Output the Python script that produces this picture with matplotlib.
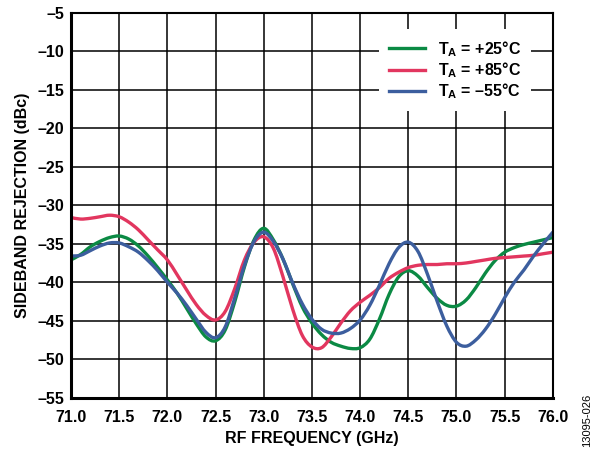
import numpy as np
import matplotlib
matplotlib.use('Agg')
import matplotlib.pyplot as plt
from matplotlib.ticker import FuncFormatter, MultipleLocator
from matplotlib.path import Path
from matplotlib.patches import PathPatch
from matplotlib.lines import Line2D

plt.rcParams['font.family'] = ['Liberation Sans', 'DejaVu Sans']
plt.rcParams['mathtext.fontset'] = 'custom'
plt.rcParams['mathtext.bf'] = 'Liberation Sans:bold'
plt.rcParams['mathtext.rm'] = 'Liberation Sans:bold'
plt.rcParams['mathtext.default'] = 'bf'

# RF frequency (GHz)
freq = [71.0, 71.1, 71.2, 71.3, 71.4, 71.5, 71.6, 71.7, 71.8, 71.9,
        72.0, 72.1, 72.2, 72.3, 72.4, 72.5, 72.6, 72.7, 72.8, 72.9,
        73.0, 73.1, 73.2, 73.3, 73.4, 73.5, 73.6, 73.7, 73.8, 73.9,
        74.0, 74.1, 74.2, 74.3, 74.4, 74.5, 74.6, 74.7, 74.8, 74.9,
        75.0, 75.1, 75.2, 75.3, 75.4, 75.5, 75.6, 75.7, 75.8, 75.9, 76.0]

# sideband rejection (dBc)
sbr_25 = [-37.1, -36.4, -35.4, -34.7, -34.2, -34.0, -34.4, -35.3, -36.6, -38.1,
          -39.7, -41.4, -43.4, -45.4, -47.1, -47.6, -46.2, -42.5, -38.0, -34.5,
          -33.0, -34.5, -37.0, -40.2, -43.2, -45.3, -46.8, -47.8, -48.3, -48.6,
          -48.5, -47.4, -44.8, -41.6, -39.3, -38.5, -39.2, -40.7, -42.1, -43.0,
          -43.1, -42.3, -40.7, -38.8, -37.2, -36.1, -35.5, -35.1, -34.8, -34.5, -34.2]

sbr_85 = [-31.6, -31.8, -31.7, -31.5, -31.3, -31.5, -32.2, -33.2, -34.5, -35.8,
          -37.1, -39.0, -41.0, -42.9, -44.3, -44.9, -43.8, -40.8, -37.1, -34.8,
          -34.1, -35.6, -39.3, -43.5, -46.9, -48.4, -48.5, -47.1, -45.3, -43.7,
          -42.6, -41.7, -40.7, -39.5, -38.7, -38.1, -37.8, -37.7, -37.7, -37.6,
          -37.6, -37.5, -37.3, -37.1, -36.9, -36.8, -36.7, -36.6, -36.5, -36.3, -36.1]

sbr_m55 = [-36.6, -36.5, -35.9, -35.3, -34.9, -34.9, -35.4, -36.1, -37.2, -38.5,
           -40.0, -41.4, -43.0, -44.8, -46.5, -47.2, -45.8, -42.0, -37.8, -34.7,
           -33.5, -34.7, -37.0, -40.1, -42.8, -44.8, -46.1, -46.6, -46.6, -46.0,
           -44.9, -43.0, -40.4, -37.6, -35.5, -34.8, -36.0, -39.0, -42.5, -45.7,
           -47.8, -48.3, -47.5, -46.1, -44.2, -42.0, -40.0, -38.4, -36.6, -35.0, -33.5]

labels = ['T$_A$ = +25°C', 'T$_A$ = +85°C', 'T$_A$ = \u201355°C']
colors = ['#0b8a44', '#e2365f', '#3c5e9e']


def smooth_path(x, y):
    # catmull-rom through the read points, drawn as cubic bezier
    x = np.asarray(x, float)
    y = np.asarray(y, float)
    verts = [(x[0], y[0])]
    codes = [Path.MOVETO]
    n = len(x)
    for i in range(n - 1):
        i0 = max(i - 1, 0)
        i3 = min(i + 2, n - 1)
        c1 = (x[i] + (x[i + 1] - x[i0]) / 6, y[i] + (y[i + 1] - y[i0]) / 6)
        c2 = (x[i + 1] - (x[i3] - x[i]) / 6, y[i + 1] - (y[i3] - y[i]) / 6)
        verts += [c1, c2, (x[i + 1], y[i + 1])]
        codes += [Path.CURVE4] * 3
    return Path(verts, codes)


fig = plt.figure(figsize=(5.99, 4.51), dpi=100)
ax = fig.add_axes([0.1185, 0.118, 0.8045, 0.854])

handles = []
for y, lab, c in zip([sbr_25, sbr_85, sbr_m55], labels, colors):
    p = PathPatch(smooth_path(freq, y), facecolor='none', edgecolor=c, lw=2.4,
                  capstyle='round', joinstyle='round')
    ax.add_patch(p)
    handles.append(Line2D([], [], color=c, lw=2.4, label=lab))

ax.set_xlim(71.0, 76.0)
ax.set_ylim(-55, -5)
ax.xaxis.set_major_locator(MultipleLocator(0.5))
ax.yaxis.set_major_locator(MultipleLocator(5))
ax.xaxis.set_major_formatter(FuncFormatter(lambda v, p: '%.1f' % v))
ax.yaxis.set_major_formatter(FuncFormatter(lambda v, p: ('%d' % v).replace('-', '\u2013')))
ax.grid(True, color='black', lw=1.1)
ax.set_axisbelow(True)
ax.tick_params(length=0, labelsize=11.5)
ax.tick_params(axis='x', pad=9)
ax.tick_params(axis='y', pad=5)
for lab in ax.get_xticklabels() + ax.get_yticklabels():
    lab.set_fontweight('bold')
for s in ['left', 'bottom']:
    ax.spines[s].set_linewidth(2.2)
for s in ['top', 'right']:
    ax.spines[s].set_linewidth(1.5)

ax.set_xlabel('RF FREQUENCY (GHz)', fontsize=11.5, fontweight='bold', labelpad=4)
ax.set_ylabel('SIDEBAND REJECTION (dBc)', fontsize=11.5, fontweight='bold', labelpad=5)

leg = ax.legend(handles=handles, loc='center', bbox_to_anchor=(0.797, 0.851), frameon=True,
                fancybox=False, edgecolor='none', facecolor='white', framealpha=1,
                fontsize=11.5, handlelength=2.3, labelspacing=0.1,
                handletextpad=0.8, borderpad=0.6)
for t in leg.get_texts():
    t.set_fontweight('bold')

fig.text(0.98, 0.009, '13095-026', rotation=90, fontsize=8, ha='center', va='bottom')

fig.savefig('out.png', dpi=100)
